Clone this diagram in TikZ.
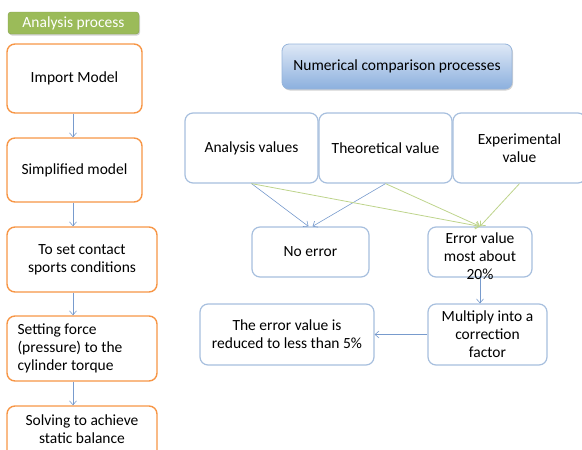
\documentclass[tikz,border=0pt]{standalone}
\usepackage{fontspec}
\setmainfont{Carlito}
\usetikzlibrary{arrows.meta,shadows,positioning}
\definecolor{accorange}{RGB}{247,150,70}
\definecolor{accgreen}{RGB}{155,187,89}
\definecolor{boxblue}{RGB}{167,191,222}
\definecolor{linkblue}{RGB}{120,155,205}
\definecolor{linkgreen}{RGB}{190,212,140}
\definecolor{headtop}{RGB}{222,232,246}
\definecolor{headbot}{RGB}{140,176,222}
\definecolor{headedge}{RGB}{150,180,218}
\tikzset{
  txt/.style={font=\fontsize{15.5}{18}\selectfont, text=black},
  stepbox/.style={draw=accorange, line width=1.4pt, rounded corners=8pt, fill=white, inner sep=0pt},
  cmpbox/.style={draw=boxblue, line width=1.2pt, rounded corners=8pt, fill=white, inner sep=0pt},
  arr/.style={draw=linkblue, line width=0.6pt, -{Straight Barb[length=4pt,width=7pt]}},
  garr/.style={draw=linkgreen, line width=0.8pt, -{Straight Barb[length=4pt,width=7pt]}},
  hshadow/.style={drop shadow={shadow xshift=1pt, shadow yshift=-1.5pt, opacity=0.35, fill=gray}}
}
\begin{document}
\begin{tikzpicture}[x=1pt,y=-1pt]
\useasboundingbox (0,0) rectangle (582,450);
\clip (0,0) rectangle (582,450);

% left column: analysis steps
\node[hshadow, fill=accgreen, draw=accgreen!85!black, line width=0.4pt, rounded corners=3pt,
      minimum width=131pt, minimum height=22pt, inner sep=0pt,
      font=\fontsize{15.5}{18}\selectfont, text=white] (head) at (73.5,23) {Analysis process};
\node[stepbox, txt, minimum width=135pt, minimum height=69pt] (s1) at (74.5,78.5) {Import Model};
\node[stepbox, txt, minimum width=135pt, minimum height=64pt] (s2) at (74.5,170) {Simplified model};
\node[stepbox, txt, minimum width=150pt, minimum height=65pt, align=center] (s3) at (82,259.5) {To set contact\\sports conditions};
\node[stepbox, minimum width=150pt, minimum height=65pt] (s4) at (82,348.5) {};
\node[txt, align=left, anchor=west] (s4t) at (14,348.5) {Setting force\\(pressure) to the\\cylinder torque};
\node[stepbox, minimum width=150pt, minimum height=65pt] (s5) at (82,438.5) {};
\node[txt, align=center] (s5t) at (82,429) {Solving to achieve\\static balance};

\coordinate (ax) at (73,0);
\draw[arr] (s1.south -| ax) -- (s2.north -| ax);
\draw[arr] (s2.south -| ax) -- (s3.north -| ax);
\draw[arr] (s3.south -| ax) -- (s4.north -| ax);
\draw[arr] (s4.south -| ax) -- (s5.north -| ax);

% right side: numerical comparison
\node[hshadow, draw=headedge, line width=0.8pt, rounded corners=7pt, top color=headtop, bottom color=headbot,
      minimum width=230pt, minimum height=45pt, inner sep=0pt, txt] (cmp) at (397,66.5) {Numerical comparison processes};
\node[cmpbox, txt, minimum width=133pt, minimum height=70pt] (av) at (251.5,148) {Analysis values};
\node[cmpbox, txt, minimum width=133pt, minimum height=70pt] (tv) at (385.5,148) {Theoretical value};
\node[cmpbox, txt, minimum width=133pt, minimum height=70pt, align=center] (ev) at (519.5,148) {Experimental\\value};
\node[cmpbox, txt, minimum width=117pt, minimum height=50pt] (ne) at (310.5,252) {No error};
\node[cmpbox, minimum width=104pt, minimum height=50pt] (er) at (480,252) {};
\node[txt, align=center] (ert) at (480,256) {Error value\\most about\\20\%};
\node[cmpbox, txt, minimum width=119pt, minimum height=61pt, align=center] (mc) at (487.5,334.5) {Multiply into a\\correction\\factor};
\node[cmpbox, txt, minimum width=174pt, minimum height=61pt, align=center] (rd) at (287,334.5) {The error value is\\reduced to less than 5\%};

\draw[arr] (av.south) -- ([xshift=-2pt]ne.north);
\draw[arr] (tv.south) -- ([xshift=2pt]ne.north);
\draw[garr] (av.south) -- (er.north);
\draw[garr] (tv.south) -- (er.north);
\draw[garr] (ev.south) -- (er.north);
\draw[arr] (er.south) -- (mc.north -| er.south);
\draw[arr] (mc.west) -- (rd.east);
\end{tikzpicture}
\end{document}
